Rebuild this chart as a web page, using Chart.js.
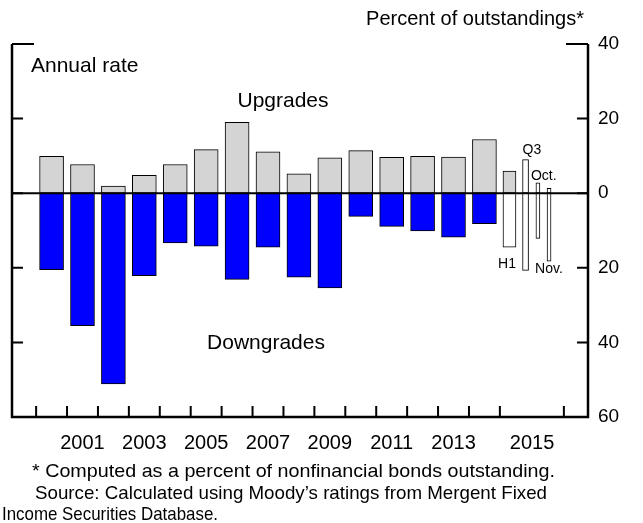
<!DOCTYPE html>
<html>
<head>
<meta charset="utf-8">
<script src="https://cdn.jsdelivr.net/npm/chart.js@4.4.0/dist/chart.umd.min.js"></script>
<style>
  html, body { margin: 0; padding: 0; background: #fff; }
  #wrap { width: 643px; height: 523px; }
</style>
</head>
<body>
<div id="wrap"><canvas id="chart" width="643" height="523"></canvas></div>
<script>
// Annual rates of rating changes, percent of outstandings
const years = [2000, 2001, 2002, 2003, 2004, 2005, 2006, 2007, 2008, 2009, 2010, 2011, 2012, 2013, 2014];
const upgrades = [9.9, 7.7, 1.9, 4.8, 7.7, 11.7, 19.0, 11.1, 5.2, 9.5, 11.4, 9.6, 9.9, 9.7, 14.4];
const downgrades = [20.5, 35.5, 51.1, 22.1, 13.3, 14.2, 23.1, 14.5, 22.5, 25.4, 6.2, 8.9, 10.1, 11.8, 8.2];

// 2015 partial periods
const periods2015 = ['H1', 'Q3', 'Oct.', 'Nov.'];
const upgrades2015 = [5.9, 9.0, 2.8, 1.3];
const downgrades2015 = [14.5, 20.7, 12.1, 18.2];

// axis labels
const xLabels = ['2001', '2003', '2005', '2007', '2009', '2011', '2013', '2015'];
const yTickValues = [40, 20, 0, -20, -40, -60];

// layout (not data): where the 2015 bars sit on the year axis, and their widths
const periodX = [2015.31, 2015.83, 2016.23, 2016.59];
const periodWidth = [13, 6, 4, 4];
const xLabelPos = [2001.5, 2003.5, 2005.5, 2007.5, 2009.5, 2011.5, 2013.5, 2016.04];
const xTickPos = [2000, 2001, 2002, 2003, 2004, 2005, 2006, 2007, 2008, 2009, 2010, 2011, 2012, 2013, 2014, 2015, 2017.07];

const FONT = '"Liberation Sans", Arial, sans-serif';
const GRAY = '#d4d4d4';
const BLUE = '#0000ff';

const datasets = [
  {
    label: 'Upgrades',
    data: years.map((y, i) => ({ x: y + 0.5, y: upgrades[i] })),
    backgroundColor: GRAY,
    borderColor: '#000',
    borderWidth: 1,
    borderSkipped: false,
    barThickness: 24
  },
  {
    label: 'Downgrades',
    data: years.map((y, i) => ({ x: y + 0.5, y: -downgrades[i] })),
    backgroundColor: BLUE,
    borderColor: '#000',
    borderWidth: 1,
    borderSkipped: false,
    barThickness: 24
  }
];

periods2015.forEach((p, i) => {
  datasets.push({
    label: p,
    data: [
      { x: periodX[i], y: upgrades2015[i] },
      { x: periodX[i], y: -downgrades2015[i] }
    ],
    backgroundColor: [i === 0 ? GRAY : '#fff', '#fff'],
    borderColor: '#000',
    borderWidth: 1,
    borderSkipped: false,
    barThickness: periodWidth[i]
  });
});

// draw text squeezed/stretched to a given width
function fitText(ctx, text, x, y, width) {
  const w = ctx.measureText(text).width;
  ctx.save();
  ctx.translate(x, y);
  ctx.scale(width / w, 1);
  ctx.fillText(text, 0, 0);
  ctx.restore();
}

// frame, inward ticks and zero line
const framePlugin = {
  id: 'frame',
  beforeDraw(chart) {
    const ctx = chart.ctx;
    ctx.save();
    ctx.fillStyle = '#fff';
    ctx.fillRect(0, 0, chart.width, chart.height);
    ctx.restore();
  },
  afterDatasetsDraw(chart) {
    const { ctx, chartArea: a, scales } = chart;
    const xs = scales.x, ys = scales.y;
    ctx.save();
    ctx.strokeStyle = '#000';
    ctx.lineCap = 'butt';

    // zero line
    ctx.lineWidth = 2;
    const y0 = ys.getPixelForValue(0);
    ctx.beginPath();
    ctx.moveTo(a.left, y0);
    ctx.lineTo(a.right, y0);
    ctx.stroke();

    // left, bottom, right axis lines
    ctx.lineWidth = 2.5;
    ctx.beginPath();
    ctx.moveTo(a.left, a.top);
    ctx.lineTo(a.left, a.bottom);
    ctx.lineTo(a.right, a.bottom);
    ctx.lineTo(a.right, a.top);
    ctx.stroke();

    // value ticks on both sides
    ctx.lineWidth = 2;
    yTickValues.forEach(v => {
      const py = ys.getPixelForValue(v);
      const len = v === 40 ? 22 : 11;
      ctx.beginPath();
      ctx.moveTo(a.left, py);
      ctx.lineTo(a.left + len, py);
      ctx.moveTo(a.right, py);
      ctx.lineTo(a.right - len, py);
      ctx.stroke();
    });

    // year ticks
    xTickPos.forEach(v => {
      const px = xs.getPixelForValue(v);
      ctx.beginPath();
      ctx.moveTo(px, a.bottom);
      ctx.lineTo(px, a.bottom - 11);
      ctx.stroke();
    });
    ctx.restore();
  },
  afterDraw(chart) {
    const ctx = chart.ctx;
    ctx.save();
    ctx.fillStyle = '#000';
    ctx.textBaseline = 'alphabetic';

    ctx.font = '20px ' + FONT;
    ctx.textAlign = 'right';
    ctx.fillText('Percent of outstandings*', 584, 25);
    ctx.font = '21px ' + FONT;
    ctx.textAlign = 'left';
    ctx.fillText('Annual rate', 31, 72);
    ctx.textAlign = 'center';
    ctx.fillText('Upgrades', 283, 107);
    ctx.fillText('Downgrades', 266, 349);

    // period labels next to the 2015 bars
    ctx.font = '14px ' + FONT;
    const bar = (i, j) => chart.getDatasetMeta(2 + i).data[j];
    let b = bar(0, 1);
    ctx.textAlign = 'right';
    ctx.fillText(periods2015[0], b.x + b.width / 2, b.y + 21);
    b = bar(1, 0);
    ctx.textAlign = 'left';
    ctx.fillText(periods2015[1], b.x - b.width / 2, b.y - 6);
    b = bar(2, 0);
    ctx.fillText(periods2015[2], b.x - 7, b.y - 3);
    b = bar(3, 1);
    ctx.fillText(periods2015[3], b.x - 14, b.y + 12);

    // notes
    ctx.font = '19px ' + FONT;
    ctx.textAlign = 'left';
    fitText(ctx, '* Computed as a percent of nonfinancial bonds outstanding.', 32, 477, 523);
    fitText(ctx, 'Source: Calculated using Moody\u2019s ratings from Mergent Fixed', 35, 499, 512);
    fitText(ctx, 'Income Securities Database.', 2, 520, 216);
    ctx.restore();
  }
};

new Chart(document.getElementById('chart'), {
  type: 'bar',
  data: { datasets: datasets },
  options: {
    responsive: false,
    animation: false,
    layout: { padding: { left: 12, top: 44, right: 0, bottom: 0 } },
    plugins: {
      legend: { display: false },
      tooltip: { enabled: false }
    },
    scales: {
      x: {
        type: 'linear',
        min: 1999.22,
        max: 2017.85,
        offset: false,
        stacked: true,
        grid: { display: false, drawTicks: false },
        border: { display: false },
        afterBuildTicks: scale => {
          scale.ticks = xLabelPos.map(v => ({ value: v }));
        },
        afterFit: scale => { scale.height = 106; },
        ticks: {
          autoSkip: false,
          maxRotation: 0,
          padding: 14,
          color: '#000',
          font: { family: FONT, size: 20 },
          callback: (v, i) => xLabels[i]
        }
      },
      y: {
        position: 'right',
        min: -60,
        max: 40,
        grid: { display: false, drawTicks: false },
        border: { display: false },
        afterBuildTicks: scale => {
          scale.ticks = yTickValues.map(v => ({ value: v }));
        },
        afterFit: scale => { scale.width = 55; },
        ticks: {
          padding: 10,
          color: '#000',
          font: { family: FONT, size: 19 },
          callback: v => String(Math.abs(v))
        }
      }
    }
  },
  plugins: [framePlugin]
});
</script>
</body>
</html>
